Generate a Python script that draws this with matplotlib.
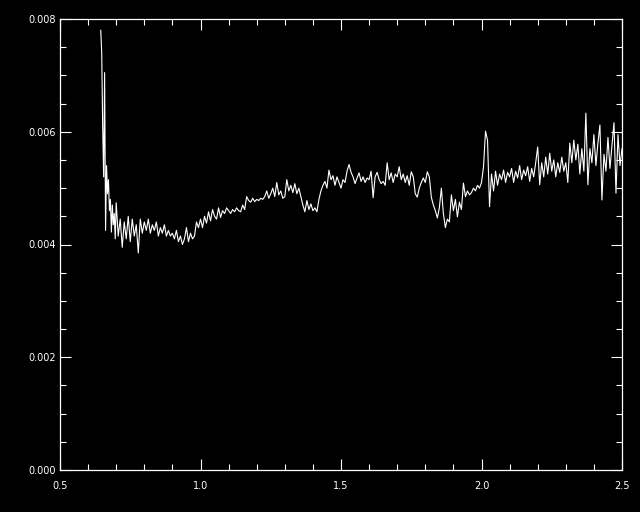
import numpy as np
import matplotlib
matplotlib.use("Agg")
import matplotlib.pyplot as plt
from matplotlib.ticker import MultipleLocator, FormatStrFormatter

# spectrum values in units of 1e-3
# (x0, x1) gives the wavelength span each segment covers
seg_a = [7.80, 7.40, 6.10, 5.20, 7.05, 4.25, 5.40, 4.90, 5.15, 4.60, 4.80, 4.22, 4.70, 4.35, 4.55, 4.10]
seg_b = [4.74, 4.15, 4.45, 3.95, 4.40, 4.10, 4.50, 4.05, 4.45, 4.15, 4.35, 3.85, 4.45, 4.20]
seg_c = [4.40, 4.25, 4.45, 4.20, 4.35, 4.25, 4.40, 4.15, 4.30, 4.20, 4.35, 4.15, 4.25, 4.15]
seg_d = [4.20, 4.10, 4.25, 4.05, 4.15, 4.00, 4.10, 4.30, 4.05, 4.20, 4.10, 4.15, 4.40, 4.30]
seg_e = [4.45, 4.30, 4.50, 4.38, 4.58, 4.42, 4.62, 4.50, 4.45, 4.65, 4.48, 4.60, 4.55, 4.65]
seg_f = [4.60, 4.55, 4.62, 4.58, 4.65, 4.60, 4.58, 4.70, 4.62, 4.85, 4.78, 4.75, 4.82, 4.76]
seg_g = [4.80, 4.78, 4.82, 4.80, 4.85, 4.95, 4.82, 4.90, 5.00, 4.85, 5.10, 4.88, 4.95, 4.82]
seg_h = [4.85, 5.15, 4.95, 5.05, 4.92, 5.08, 4.90, 5.00, 4.85, 4.70, 4.58, 4.78, 4.62, 4.72]
seg_i = [4.60, 4.65, 4.58, 4.80, 4.95, 5.05, 5.12, 5.00, 5.32, 5.15, 5.22, 5.05, 5.20, 5.10]
seg_j = [5.00, 5.15, 5.10, 5.30, 5.42, 5.28, 5.20, 5.08, 5.18, 5.27, 5.12, 5.20, 5.10, 5.18]
seg_k = [5.15, 5.30, 4.83, 5.20, 5.28, 5.15, 5.08, 5.12, 5.05, 5.45, 5.15, 5.27, 5.10, 5.25]
seg_l = [5.20, 5.38, 5.15, 5.25, 5.10, 5.22, 5.05, 5.29, 5.20, 4.90, 4.84, 5.00, 5.10, 5.18]
seg_m = [5.10, 5.29, 5.20, 4.84, 4.70, 4.60, 4.47, 4.65, 5.00, 4.55, 4.30, 4.45, 4.40, 4.88]
seg_n = [4.60, 4.80, 4.49, 4.75, 4.62, 5.09, 4.85, 4.95, 4.88, 4.92, 5.00, 4.95, 5.05, 5.00]
seg_o = [5.10, 5.38, 6.01, 5.85, 4.67, 5.25, 4.95, 5.30, 5.05, 5.25, 5.15, 5.32, 5.10, 5.28]
seg_p = [5.20, 5.35, 5.10, 5.30, 5.18, 5.40, 5.15, 5.32, 5.22, 5.38, 5.12, 5.35, 5.20, 5.45]
seg_q = [5.73, 5.06, 5.45, 5.20, 5.55, 5.25, 5.62, 5.30, 5.50, 5.20, 5.45, 5.28, 5.55, 5.30]
seg_r = [5.45, 5.10, 5.80, 5.45, 5.85, 5.50, 5.78, 5.25, 5.70, 5.30, 6.33, 5.06, 5.70, 5.45]
seg_s = [5.95, 5.40, 5.80, 6.12, 4.79, 5.60, 5.30, 5.90, 5.35, 5.75, 6.16, 4.91, 5.95, 5.40, 5.70]

segments = [
    (0.645, 0.70, seg_a), (0.70, 0.80, seg_b), (0.80, 0.90, seg_c),
    (0.90, 1.00, seg_d), (1.00, 1.10, seg_e), (1.10, 1.20, seg_f),
    (1.20, 1.30, seg_g), (1.30, 1.40, seg_h), (1.40, 1.50, seg_i),
    (1.50, 1.60, seg_j), (1.60, 1.70, seg_k), (1.70, 1.80, seg_l),
    (1.80, 1.90, seg_m), (1.90, 2.00, seg_n), (2.00, 2.10, seg_o),
    (2.10, 2.20, seg_p), (2.20, 2.30, seg_q), (2.30, 2.40, seg_r),
    (2.40, 2.50, seg_s),
]

x = []
y = []
for x0, x1, vals in segments:
    last = (x1 == 2.50)
    x.extend(np.linspace(x0, x1, len(vals), endpoint=last))
    y.extend(vals)
x = np.array(x)
y = np.array(y) * 1e-3

fig = plt.figure(figsize=(6.4, 5.12), dpi=100, facecolor='black')
ax = fig.add_axes([60/640, 42/512, 562/640, 451/512], facecolor='black')
ax.plot(x, y, color='white', lw=0.8)

ax.set_xlim(0.5, 2.5)
ax.set_ylim(0.0, 0.008)
ax.xaxis.set_major_locator(MultipleLocator(0.5))
ax.xaxis.set_minor_locator(MultipleLocator(0.1))
ax.yaxis.set_major_locator(MultipleLocator(0.002))
ax.yaxis.set_minor_locator(MultipleLocator(0.0005))
ax.xaxis.set_major_formatter(FormatStrFormatter('%.1f'))
ax.yaxis.set_major_formatter(FormatStrFormatter('%.3f'))

for sp in ax.spines.values():
    sp.set_color('white')
    sp.set_linewidth(0.9)
ax.tick_params(which='both', direction='in', top=True, right=True,
               colors='white', labelsize=7, width=0.8)
ax.tick_params(which='major', length=8, pad=8)
ax.tick_params(which='minor', length=4)
ax.tick_params(axis='y', which='major', pad=3)

fig.savefig('out.png', dpi=100, facecolor='black')
